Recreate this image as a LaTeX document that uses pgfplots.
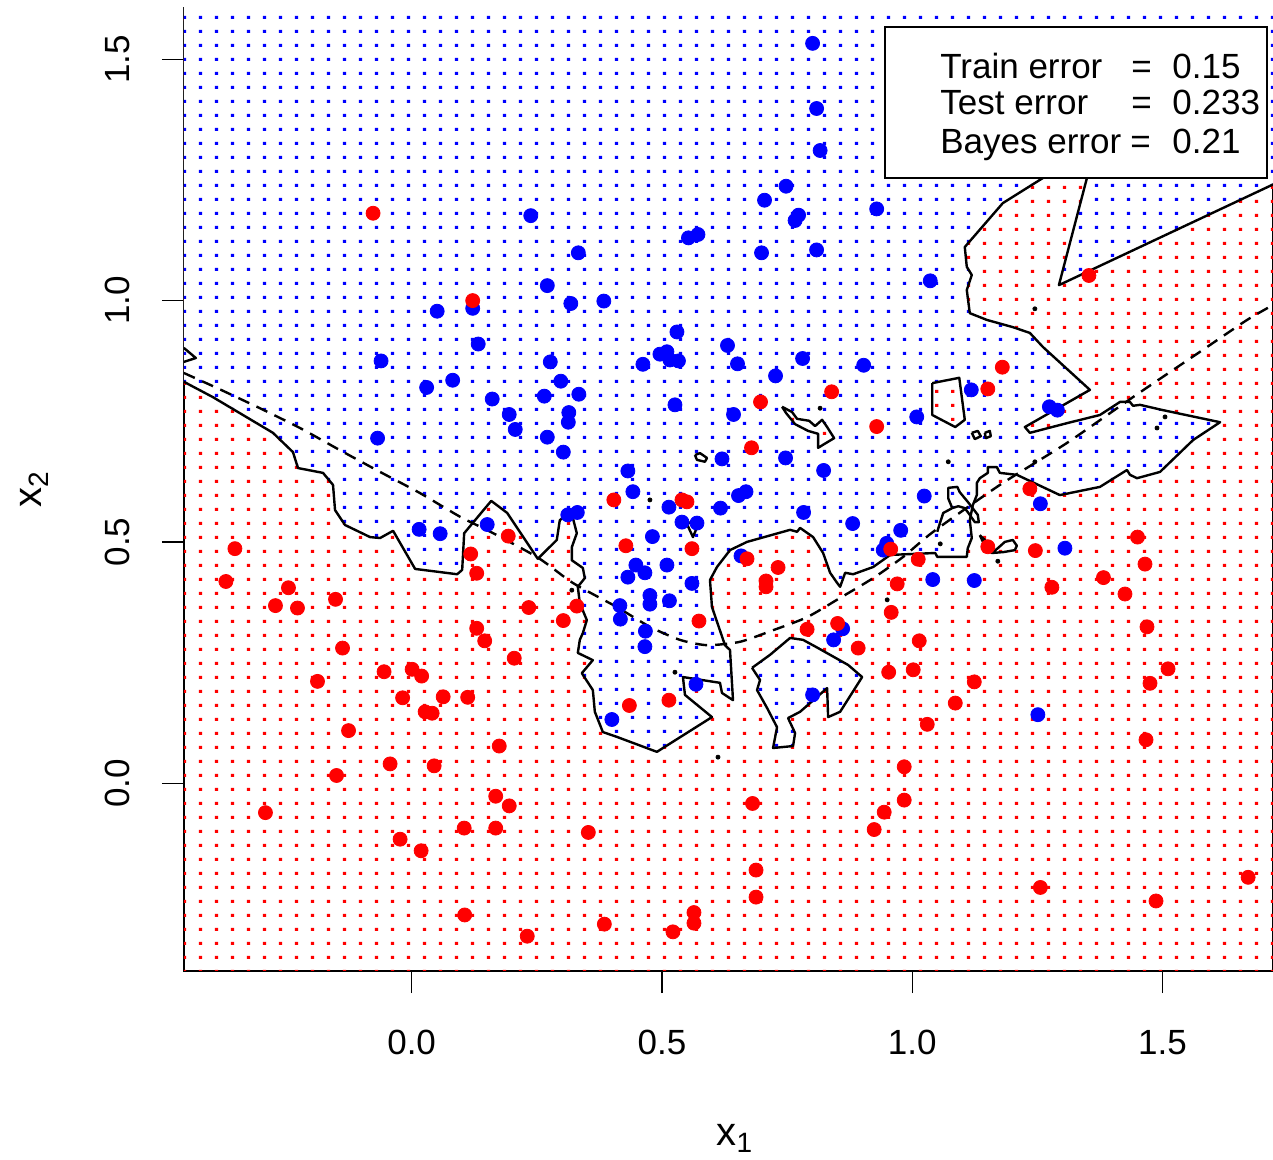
\documentclass[border=0pt]{standalone}
\usepackage{fontspec}
\setmainfont{Liberation Sans}
\usepackage{pgfplots}
\usepackage{pgfplotstable}
\pgfplotsset{compat=1.18}
\usetikzlibrary{patterns}
\pgfdeclarepatternformonly{gdots}{\pgfpointorigin}{\pgfpoint{8pt}{7.083pt}}{\pgfpoint{8pt}{7.083pt}}{%
  \pgfpathrectangle{\pgfpoint{3.67pt}{1.59pt}}{\pgfpoint{1.67pt}{1.67pt}}\pgfusepath{fill}}
\definecolor{rblue}{RGB}{0,0,255}
\definecolor{rred}{RGB}{255,0,0}

\pgfplotstableread{
x y
0.801 1.533
0.809 1.398
0.816 1.311
0.748 1.237
0.705 1.208
0.773 1.177
0.766 1.166
0.929 1.190
0.553 1.130
0.572 1.137
0.333 1.099
0.699 1.099
0.809 1.105
0.271 1.031
0.318 0.994
0.384 0.999
0.530 0.935
0.238 1.176
0.122 0.984
0.051 0.978
1.036 1.041
0.133 0.910
-0.061 0.875
0.277 0.873
0.082 0.835
0.030 0.820
0.161 0.796
0.265 0.802
0.195 0.764
0.207 0.733
-0.068 0.715
0.271 0.717
0.015 0.526
0.057 0.517
0.151 0.536
0.631 0.907
0.462 0.868
0.496 0.889
0.510 0.894
0.516 0.877
0.533 0.875
0.651 0.869
0.781 0.880
0.903 0.866
0.727 0.844
0.298 0.833
0.334 0.806
0.526 0.784
0.314 0.768
0.313 0.748
0.643 0.764
0.303 0.686
0.620 0.672
0.747 0.674
0.823 0.648
0.432 0.647
0.442 0.604
0.514 0.572
0.617 0.570
0.653 0.596
0.668 0.604
0.783 0.561
0.312 0.556
0.331 0.561
0.540 0.541
0.570 0.539
0.881 0.538
0.977 0.524
0.481 0.511
0.949 0.497
0.942 0.483
0.658 0.471
0.448 0.452
0.466 0.436
0.510 0.452
0.432 0.427
0.560 0.414
0.476 0.389
0.476 0.371
0.515 0.378
0.416 0.368
0.417 0.340
0.861 0.320
0.843 0.297
0.467 0.315
0.466 0.283
1.118 0.815
1.009 0.759
1.274 0.780
1.290 0.773
1.256 0.579
1.024 0.595
1.305 0.487
1.041 0.422
1.124 0.420
0.568 0.205
0.400 0.132
0.801 0.183
1.251 0.142
}\bluepts

\pgfplotstableread{
x y
-0.077 1.181
0.122 1.000
1.353 1.052
0.193 0.512
0.118 0.475
0.130 0.435
-0.353 0.486
-0.371 0.418
-0.246 0.405
-0.272 0.368
-0.228 0.363
-0.152 0.381
0.234 0.364
0.130 0.321
0.146 0.295
-0.138 0.280
0.839 0.811
0.697 0.790
0.929 0.739
0.679 0.695
0.404 0.587
0.540 0.587
0.550 0.583
0.428 0.492
0.560 0.486
0.957 0.485
0.670 0.465
0.732 0.447
0.708 0.419
0.708 0.407
0.970 0.413
0.330 0.367
0.958 0.354
0.303 0.337
0.574 0.336
0.790 0.319
0.851 0.331
0.892 0.280
1.180 0.862
1.151 0.817
1.235 0.610
1.450 0.510
1.151 0.490
1.246 0.482
1.012 0.464
1.465 0.454
1.382 0.426
1.279 0.406
1.425 0.392
1.469 0.324
1.014 0.295
0.205 0.259
-0.055 0.231
0.001 0.236
0.020 0.222
-0.188 0.211
-0.018 0.177
0.063 0.179
0.112 0.178
0.027 0.148
0.041 0.145
-0.126 0.109
0.175 0.077
-0.043 0.040
0.045 0.036
-0.150 0.016
0.168 -0.027
0.195 -0.047
-0.292 -0.061
0.105 -0.093
0.168 -0.093
-0.023 -0.116
0.019 -0.140
0.106 -0.273
0.231 -0.317
0.953 0.230
1.002 0.235
0.514 0.172
0.435 0.161
0.984 0.034
0.984 -0.035
0.944 -0.060
0.924 -0.096
0.681 -0.042
0.353 -0.102
0.688 -0.180
0.688 -0.236
0.564 -0.268
0.564 -0.290
0.385 -0.292
0.522 -0.308
1.124 0.210
1.086 0.166
1.030 0.122
1.511 0.237
1.475 0.207
1.467 0.090
1.671 -0.195
1.256 -0.216
1.487 -0.244
}\redpts

\pgfplotstableread{
x y
-0.47 1.62
1.74 1.62
1.74 1.250
1.293 1.032
1.349 1.254
1.325 1.374
1.261 1.254
1.181 1.202
1.105 1.111
1.109 1.070
1.119 1.053
1.109 1.022
1.115 0.974
1.149 0.960
1.201 0.945
1.235 0.933
1.261 0.904
1.355 0.815
1.225 0.738
1.235 0.726
1.309 0.746
1.375 0.763
1.415 0.790
1.435 0.790
1.441 0.782
1.455 0.784
1.501 0.773
1.615 0.748
1.561 0.711
1.495 0.645
1.449 0.632
1.435 0.639
1.429 0.649
1.375 0.614
1.295 0.597
1.209 0.639
1.175 0.643
1.169 0.655
1.151 0.655
1.151 0.643
1.135 0.632
1.129 0.622
1.129 0.597
1.121 0.576
1.115 0.545
1.119 0.508
1.111 0.487
1.109 0.469
1.050 0.469
1.046 0.477
0.956 0.473
0.922 0.448
0.882 0.433
0.866 0.436
0.856 0.407
0.850 0.415
0.836 0.436
0.822 0.477
0.802 0.510
0.776 0.529
0.770 0.521
0.756 0.525
0.670 0.500
0.636 0.483
0.610 0.448
0.596 0.421
0.600 0.365
0.626 0.286
0.636 0.276
0.642 0.172
0.620 0.187
0.616 0.208
0.542 0.220
0.546 0.183
0.600 0.137
0.490 0.065
0.410 0.096
0.382 0.106
0.366 0.148
0.362 0.193
0.340 0.228
0.362 0.255
0.332 0.270
0.336 0.297
0.342 0.311
0.350 0.338
0.336 0.373
0.332 0.407
0.346 0.425
0.342 0.446
0.320 0.462
0.320 0.489
0.330 0.518
0.322 0.550
0.310 0.556
0.296 0.545
0.290 0.504
0.252 0.465
0.191 0.560
0.159 0.585
0.105 0.518
0.101 0.442
0.091 0.433
0.007 0.444
-0.037 0.523
-0.063 0.508
-0.083 0.510
-0.133 0.535
-0.153 0.566
-0.157 0.618
-0.177 0.643
-0.227 0.653
-0.237 0.686
-0.277 0.726
-0.397 0.800
-0.47 0.840
-0.47 1.62
}\bluemain

\pgfplotstableread{
x y
0.680 0.239
0.716 0.266
0.756 0.301
0.782 0.297
0.812 0.280
0.872 0.245
0.900 0.220
0.856 0.148
0.832 0.137
0.830 0.197
0.776 0.148
0.752 0.135
0.766 0.104
0.762 0.077
0.722 0.073
0.730 0.116
0.710 0.156
0.690 0.193
0.696 0.214
0.680 0.239
}\rightisl

\pgfplotstableread{
x y
0.740 0.780
0.760 0.769
0.770 0.755
0.794 0.751
0.806 0.740
0.820 0.753
0.830 0.738
0.844 0.715
0.812 0.695
0.812 0.724
0.792 0.730
0.766 0.744
0.748 0.767
0.740 0.780
}\islA

\pgfplotstableread{
x y
0.566 0.680
0.576 0.684
0.590 0.674
0.586 0.666
0.570 0.670
0.566 0.680
}\islB

\pgfplotstableread{
x y
0.550 0.537
0.562 0.543
0.572 0.535
0.562 0.510
0.550 0.537
}\islC

\pgfplotstableread{
x y
1.040 0.829
1.094 0.840
1.105 0.753
1.086 0.738
1.040 0.763
1.040 0.829
}\islD

\pgfplotstableread{
x y
1.119 0.726
1.131 0.730
1.137 0.719
1.125 0.713
1.119 0.726
}\islE

\pgfplotstableread{
x y
1.145 0.726
1.155 0.730
1.157 0.719
1.147 0.715
1.145 0.726
}\islF

\pgfplotstableread{
x y
1.050 0.521
1.056 0.541
1.062 0.560
1.080 0.570
1.072 0.590
1.072 0.612
1.090 0.614
1.095 0.603
1.111 0.583
1.131 0.556
1.133 0.541
1.125 0.541
1.115 0.556
1.105 0.570
1.092 0.574
1.080 0.570
}\loopL

\pgfplotstableread{
x y
1.135 0.514
1.147 0.502
1.159 0.477
1.171 0.487
1.185 0.500
1.201 0.504
1.209 0.492
1.205 0.483
1.183 0.479
1.159 0.477
1.144 0.494
1.135 0.514
}\loopM

\pgfplotstableread{
x y
-0.455 0.902
-0.431 0.881
-0.455 0.873
}\spike

\pgfplotstableread{
x y
-0.455 0.850
-0.389 0.819
-0.303 0.777
-0.223 0.736
-0.143 0.690
-0.063 0.645
0.017 0.601
0.097 0.552
0.163 0.518
0.253 0.467
0.322 0.415
0.410 0.365
0.476 0.324
0.536 0.297
0.590 0.286
0.656 0.293
0.722 0.317
0.790 0.344
0.856 0.384
0.922 0.425
0.982 0.469
1.042 0.521
1.175 0.618
1.309 0.705
1.441 0.800
1.575 0.894
1.669 0.960
1.721 0.991
}\bayes

\pgfplotstableread{
x y
0.816 0.777
0.476 0.587
0.320 0.400
0.950 0.380
0.526 0.230
0.612 0.054
1.245 0.983
1.072 0.666
1.505 0.759
1.489 0.736
1.171 0.460
1.056 0.496
1.245 0.666
}\specks

\begin{document}
\begin{tikzpicture}
\begin{axis}[name=ax, scale only axis, width=544.5pt, height=481.5pt,
  xmin=-0.4547, xmax=1.7207, ymin=-0.3891, ymax=1.6063,
  axis line style={line width=0.8pt},
  tick align=outside, tick pos=left,
  major tick length=11pt,
  tick style={line width=0.6pt, black},
  xtick={0,0.5,1,1.5}, xticklabels={0.0,0.5,1.0,1.5},
  ytick={0,0.5,1,1.5}, yticklabels={0.0,0.5,1.0,1.5},
  xticklabel style={font=\fontsize{17.5}{21}\selectfont, inner sep=0pt, anchor=north, yshift=-18.5pt},
  yticklabel style={font=\fontsize{17.5}{21}\selectfont, inner sep=0pt, xshift=-16pt, rotate=90, anchor=south},
  xlabel={x\textsubscript{1}}, ylabel={x\textsubscript{2}},
  label style={font=\fontsize{20}{24}\selectfont},
  xlabel style={at={(axis description cs:0.506,-0.1817)}, anchor=base},
  ylabel style={at={(axis description cs:-0.1304,0.5)}, anchor=base},
  clip=true]

% background grid (red everywhere, then blue decision region)
\addplot[draw=none, pattern=gdots, pattern color=rred] coordinates {(-0.6,-0.6) (1.9,-0.6) (1.9,1.8) (-0.6,1.8)};
\addplot[draw=none, fill=white, postaction={pattern=gdots, pattern color=rblue}] table {\bluemain};
\addplot[draw=none, fill=white, postaction={pattern=gdots, pattern color=rred}] table {\islA};
\addplot[draw=none, fill=white, postaction={pattern=gdots, pattern color=rred}] table {\islB};
\addplot[draw=none, fill=white, postaction={pattern=gdots, pattern color=rred}] table {\islC};
\addplot[draw=none, fill=white, postaction={pattern=gdots, pattern color=rred}] table {\islD};
\addplot[draw=none, fill=white, postaction={pattern=gdots, pattern color=rblue}] table {\rightisl};

% training points
\addplot[only marks, mark=*, mark size=3.5pt, color=rblue, mark options={draw=rblue, fill=rblue}] table {\bluepts};
\addplot[only marks, mark=*, mark size=3.5pt, color=rred, mark options={draw=rred, fill=rred}] table {\redpts};

% decision boundary
\addplot[black, line width=1.2pt, line join=round] table {\bluemain};
\addplot[black, line width=1.2pt, line join=round] table {\rightisl};
\addplot[black, line width=1.2pt, line join=round] table {\islA};
\addplot[black, line width=1.2pt, line join=round] table {\islB};
\addplot[black, line width=1.2pt, line join=round] table {\islC};
\addplot[black, line width=1.2pt, line join=round] table {\islD};
\addplot[black, line width=1.2pt, line join=round] table {\islE};
\addplot[black, line width=1.2pt, line join=round] table {\islF};
\addplot[black, line width=1.2pt, line join=round] table {\loopL};
\addplot[black, line width=1.2pt, line join=round] table {\loopM};
\addplot[black, line width=1.2pt, line join=round] table {\spike};
\addplot[only marks, mark=*, mark size=1pt, black] table {\specks};

% Bayes boundary
\addplot[black, line width=1.2pt, dash pattern=on 6pt off 4pt, smooth, tension=0.4] table {\bayes};

% legend
\draw[fill=white, line width=1.2pt] (rel axis cs:0.6437,0.8235) rectangle (rel axis cs:0.9945,0.9803);
\node[anchor=base west, inner sep=0pt, font=\fontsize{17.5}{21}\selectfont] at (rel axis cs:0.6942,0.9270) {Train error};
\node[anchor=base west, inner sep=0pt, font=\fontsize{17.5}{21}\selectfont] at (rel axis cs:0.6942,0.8889) {Test error};
\node[anchor=base west, inner sep=0pt, font=\fontsize{17.5}{21}\selectfont] at (rel axis cs:0.6942,0.8486) {Bayes error};
\node[anchor=base west, inner sep=0pt, font=\fontsize{17.5}{21}\selectfont] at (rel axis cs:0.8696,0.9270) {=};
\node[anchor=base west, inner sep=0pt, font=\fontsize{17.5}{21}\selectfont] at (rel axis cs:0.8696,0.8889) {=};
\node[anchor=base west, inner sep=0pt, font=\fontsize{17.5}{21}\selectfont] at (rel axis cs:0.8687,0.8486) {=};
\node[anchor=base west, inner sep=0pt, font=\fontsize{17.5}{21}\selectfont] at (rel axis cs:0.9073,0.9270) {0.15};
\node[anchor=base west, inner sep=0pt, font=\fontsize{17.5}{21}\selectfont] at (rel axis cs:0.9073,0.8889) {0.233};
\node[anchor=base west, inner sep=0pt, font=\fontsize{17.5}{21}\selectfont] at (rel axis cs:0.9073,0.8486) {0.21};
\end{axis}
\pgfresetboundingbox
\path[use as bounding box] ([xshift=-92pt,yshift=-94.5pt]ax.south west) rectangle ([yshift=4pt]ax.north east);
\end{tikzpicture}
\end{document}
